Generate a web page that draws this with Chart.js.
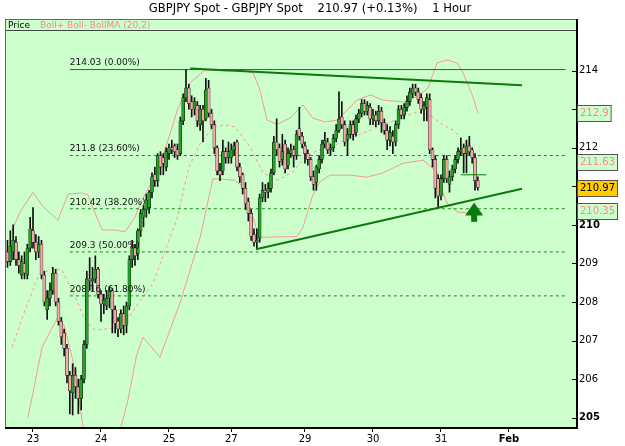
<!DOCTYPE html>
<html>
<head>
<meta charset="utf-8">
<script src="https://cdn.jsdelivr.net/npm/chart.js@4.4.1/dist/chart.umd.min.js"></script>
<style>
  html, body { margin: 0; padding: 0; background: #fff; }
  #wrap { width: 625px; height: 446px; position: relative; }
</style>
</head>
<body>
<div id="wrap"><canvas id="chart"></canvas></div>
<script>
(function () {
  'use strict';

  // Hourly candles, index 0 = first bar on the left
  var opens = [209.3,209.05,209.3,209.55,209.1,208.7,209.0,208.7,209.4,209.85,
    209.55,209.3,209.5,208.7,207.8,208.1,208.3,208.75,208.0,207.5,
    207.2,206.8,206.1,205.65,206.1,205.8,205.5,206.0,206.9,208.6,
    208.55,208.6,208.85,208.2,207.95,207.9,208.1,208.3,207.8,207.5,
    207.3,207.7,207.4,207.9,209.1,209.4,209.25,209.85,210.2,210.4,
    210.45,210.85,211.3,211.15,211.8,211.75,211.5,211.85,212.0,212.05,
    211.95,211.85,212.7,213.3,213.55,213.2,213.0,213.1,212.6,213.0,
    212.75,213.55,212.9,212.6,212.0,211.4,211.4,211.9,211.75,211.75,
    211.95,212.15,211.5,211.3,210.95,210.6,210.3,209.75,209.55,209.65,
    210.7,210.9,210.85,210.95,211.35,212.15,212.0,211.7,212.1,211.55,
    211.85,211.95,211.8,212.5,212.3,212.05,211.85,211.7,211.25,211.1,
    211.45,211.7,212.1,212.15,211.95,212.0,212.25,212.45,212.8,212.6,
    212.2,212.35,212.6,212.4,212.75,212.9,213.15,212.95,213.05,212.75,
    212.85,212.7,212.95,212.65,212.45,212.2,212.3,212.15,212.6,213.0,
    212.85,213.05,213.2,213.4,213.55,213.45,213.3,213.0,213.05,213.25,
    211.95,211.7,211.2,210.75,211.2,211.7,211.05,211.25,211.45,211.7,
    211.9,212.0,211.85,212.05,211.95,211.75,211.15];
  var highs = [209.6,209.85,210.0,209.7,209.3,209.2,209.3,209.5,210.2,210.45,
    209.75,209.7,209.6,208.8,208.3,208.5,208.9,208.85,208.1,207.6,
    207.3,206.9,206.2,206.4,206.3,206.0,206.1,207.0,208.8,209.15,
    208.9,209.2,208.9,208.3,208.2,208.3,208.4,208.35,207.9,207.6,
    207.8,207.9,208.0,209.2,209.6,209.5,209.9,210.4,210.5,210.8,
    210.9,211.35,211.5,211.85,211.9,211.85,212.0,212.1,212.2,212.1,
    212.1,212.8,213.4,214.03,213.65,213.35,213.3,213.2,213.1,213.1,
    213.8,213.75,213.0,212.7,212.05,211.6,212.2,212.0,212.15,212.1,
    212.15,212.2,211.6,211.35,211.1,210.7,210.4,209.9,209.9,210.8,
    211.1,211.05,211.1,211.45,212.3,212.75,212.1,212.35,212.2,212.0,
    212.1,212.05,212.45,213.05,212.4,212.15,211.95,211.75,211.4,211.55,
    211.8,212.2,212.4,212.25,212.1,212.35,212.6,213.45,213.2,212.7,
    212.5,212.7,212.7,212.85,213.0,213.25,213.25,213.2,213.15,213.0,
    212.95,213.1,213.05,212.75,212.6,212.55,212.45,212.7,213.1,213.1,
    213.15,213.35,213.55,213.65,213.65,213.55,213.4,213.2,213.4,213.4,
    212.0,211.8,211.3,211.3,211.8,211.8,211.4,211.55,211.8,212.0,
    212.25,212.1,212.2,212.3,212.0,211.85,211.25];
  var lows = [208.9,208.95,209.1,208.95,208.75,208.6,208.6,208.6,209.3,209.4,
    209.1,209.15,208.6,207.9,207.55,207.9,208.2,207.9,207.4,206.9,
    206.6,205.9,205.1,205.07,205.5,205.1,205.2,205.9,206.8,208.3,
    208.3,208.5,208.1,207.5,207.7,207.8,207.85,207.2,207.2,207.1,
    207.2,207.15,207.2,207.8,208.9,208.95,209.1,209.7,209.95,210.2,
    210.3,210.7,211.0,211.0,211.3,211.3,211.4,211.7,211.85,211.75,
    211.7,211.8,212.6,213.2,213.0,212.8,212.85,212.55,212.45,212.15,
    212.7,212.8,212.5,211.85,211.3,211.15,211.3,211.6,211.6,211.6,
    211.8,211.4,211.1,210.8,210.4,210.1,209.6,209.45,209.37,209.55,
    210.6,210.6,210.7,210.85,211.3,211.8,211.5,211.55,211.35,211.45,
    211.75,211.5,211.7,212.2,212.0,211.6,211.55,211.15,210.9,210.9,
    211.35,211.6,212.0,211.85,211.8,211.9,212.15,212.4,212.5,212.05,
    211.8,212.25,212.2,212.3,212.65,212.8,212.85,212.85,212.6,212.6,
    212.55,212.6,212.4,212.35,211.95,212.05,211.85,212.05,212.5,212.75,
    212.75,212.95,213.1,213.3,213.35,213.15,212.9,212.7,212.7,211.85,
    211.5,210.7,210.45,210.65,211.1,211.1,210.85,211.15,211.35,211.6,
    211.8,211.35,211.35,211.8,211.6,210.9,210.9];
  var closes = [209.05,209.45,209.6,209.1,208.95,209.05,208.75,209.4,209.9,209.55,
    209.3,209.5,208.7,208.0,208.1,208.3,208.75,208.0,207.5,207.1,
    206.8,206.1,205.7,206.1,205.8,205.5,206.0,206.9,208.6,208.55,
    208.6,208.85,208.2,207.95,208.05,208.1,208.3,207.8,207.45,207.3,
    207.7,207.4,207.9,209.1,209.4,209.2,209.85,210.3,210.4,210.65,
    210.85,211.25,211.15,211.8,211.5,211.6,211.9,212.0,211.95,211.9,
    211.8,212.7,213.3,213.55,213.15,213.0,213.2,212.7,213.0,212.7,
    213.5,212.9,212.6,212.0,211.4,211.3,211.9,211.75,211.9,211.95,
    212.05,211.5,211.25,210.95,210.55,210.3,209.7,209.55,209.6,210.7,
    210.9,210.85,210.95,211.35,212.15,211.95,211.65,211.9,211.45,211.85,
    211.95,211.8,212.35,212.3,212.1,211.85,211.7,211.25,211.05,211.5,
    211.7,212.1,212.2,211.95,212.0,212.25,212.45,212.75,212.6,212.15,
    212.35,212.6,212.35,212.75,212.9,213.15,212.95,213.1,212.75,212.85,
    212.7,212.95,212.65,212.45,212.2,212.4,212.15,212.6,213.0,212.85,
    213.05,213.2,213.45,213.55,213.45,213.25,213.0,213.1,213.3,211.95,
    211.7,210.95,210.75,211.2,211.7,211.2,211.25,211.45,211.7,211.9,
    211.95,211.85,212.05,211.9,211.75,211.15,210.97];

  // Bollinger (20,2) as [bar index, price]
  var bollUpper = [[1.6,209.86],[4.4,210.33],[9,210.85],[12.2,210.5],[17.8,210.12],[21.4,210.8],
    [26,210.83],[28.4,210.78],[30.9,210.31],[33.4,209.87],[38,209.87],[41.5,209.82],[45,210.2],
    [47.5,210.65],[53.1,211.42],[58,212.5],[60,213.0],[64.4,213.68],[69.7,214.02],[76.8,213.99],
    [82,214.02],[86.7,213.94],[89.1,213.5],[91.6,212.72],[95.1,212.61],[99.7,212.77],[104.3,213.11],
    [107.8,212.77],[112.1,212.67],[116.3,212.72],[123.4,213.24],[128,213.37],[132.5,213.24],
    [139.6,213.19],[144.9,213.34],[148.4,213.55],[151.6,214.2],[155.1,214.28],[158.7,214.2],
    [160.8,213.94],[164.3,213.32],[166,212.9]];
  var bollMid = [[1.6,206.83],[6.2,207.79],[10.8,208.65],[15.7,208.88],[19.2,208.83],[22.8,208.31],
    [27.4,207.53],[30.9,207.27],[37.9,207.33],[42.2,207.55],[47,208.05],[51.4,208.5],[56,209.4],
    [60,210.2],[64,211.5],[68,212.1],[72.5,212.54],[76.8,212.59],[80.3,212.54],[83.8,212.2],
    [85.6,212.02],[90.2,211.35],[95.1,211.16],[100.4,211.35],[105,211.76],[109.6,211.94],
    [114.5,212.02],[119.1,212.2],[125.5,212.38],[135,212.67],[144.5,212.93],[149.1,212.85],
    [153.7,212.59],[157.3,212.46],[160.8,212.2],[163.3,211.94],[166,211.63]];
  var bollLower = [[7.2,205.0],[9.7,205.9],[12.2,206.83],[17.8,207.61],[20,207.4],[23,206.5],
    [25,205.6],[27,204.6],[30,204.0],[33,203.8],[37,204.0],[40,204.75],[42.5,205.45],[45.5,206.6],
    [47.8,207.09],[53.8,206.57],[61,208.0],[68,209.68],[72.5,211.2],[80.3,211.16],[83.2,210.98],
    [85.6,210.46],[88,209.87],[89.1,209.68],[102.2,209.7],[104.3,209.94],[107.5,210.72],[110,211.1],
    [113.8,211.29],[120.9,211.29],[126.9,211.24],[132.5,211.35],[139.6,211.6],[146.7,211.68],
    [151.6,211.37],[153.7,210.83],[155.1,210.57],[158.7,210.34],[162.2,210.31],[166,210.35]];

  // Drawing tools
  var fibLevels = [214.03, 211.8, 210.42, 209.3, 208.16];
  var fibPercents = ['0.00%', '23.60%', '38.20%', '50.00%', '61.80%'];
  var fibSpan = [22, 197];
  var trendHigh = [[64.5, 214.06], [181.6, 213.62]];
  var trendLow = [[87.7, 209.37], [181.6, 210.94]];
  var supportLine = [[160, 211.3], [169, 211.3]];
  var arrowAt = [164.7, 210.58, 210.08]; // bar index, tip price, base price

  // Axes
  var xTickPos = [9, 33, 57, 79, 105, 129, 153, 177];
  var xTickLabels = ['23', '24', '25', '27', '29', '30', '31', 'Feb'];
  var yTickValues = [205, 206, 207, 208, 209, 210, 211, 212, 213, 214];
  var yHiddenTicks = [211, 213];
  var yBoldTicks = [205, 210];

  // Right-hand value tags
  var tagValues = [212.9, 211.63, 210.97, 210.35];
  var tagText = ['212.9', '211.63', '210.97', '210.35'];
  var tagIsPrice = [false, false, true, false];

  var titleText = 'GBPJPY Spot - GBPJPY Spot    210.97 (+0.13%)    1 Hour';

  var FONT = '"DejaVu Sans", Verdana, sans-serif';
  var UP = '#22a322';
  var DOWN = '#f6a8a8';
  var BAND = '#f39a9a';
  var FIB = '#1c8c1c';

  Chart.defaults.font.family = FONT;

  function pts(list) {
    return list.map(function (p) { return { x: p[0], y: p[1] }; });
  }

  var wickData = closes.map(function (c, i) { return { x: i, y: [lows[i], highs[i]] }; });
  var bodyData = closes.map(function (c, i) { return { x: i, y: [opens[i], c] }; });
  var bodyFill = closes.map(function (c, i) { return c >= opens[i] ? UP : DOWN; });

  var datasets = [
    { type: 'line', data: pts(trendHigh), borderColor: '#0a7a0a', borderWidth: 2, pointRadius: 0, order: 0 },
    { type: 'line', data: pts(trendLow), borderColor: '#0a7a0a', borderWidth: 2, pointRadius: 0, order: 0 },
    { type: 'line', data: pts(supportLine), borderColor: '#0a7a0a', borderWidth: 1, pointRadius: 0, order: 0 },
    { type: 'bar', data: bodyData, backgroundColor: bodyFill, borderColor: '#1a1a1a', borderWidth: 0.6,
      borderSkipped: false, barThickness: 3, grouped: false, order: 1 },
    { type: 'bar', data: wickData, backgroundColor: '#111', barThickness: 1, grouped: false, order: 2 }
  ];
  fibLevels.forEach(function (lv, k) {
    datasets.push({ type: 'line', data: [{ x: fibSpan[0], y: lv }, { x: fibSpan[1], y: lv }],
      borderColor: k === 0 ? '#0f800f' : FIB, borderWidth: 1, borderDash: k === 0 ? [] : [3, 3],
      pointRadius: 0, order: 4 });
  });
  datasets.push(
    { type: 'line', data: pts(bollUpper), borderColor: BAND, borderWidth: 1, pointRadius: 0, order: 5 },
    { type: 'line', data: pts(bollMid), borderColor: BAND, borderWidth: 1, borderDash: [3, 3], pointRadius: 0, order: 5 },
    { type: 'line', data: pts(bollLower), borderColor: BAND, borderWidth: 1, pointRadius: 0, order: 5 }
  );

  var panel = {
    id: 'panel',
    beforeDraw: function (chart) {
      var ctx = chart.ctx, a = chart.chartArea;
      ctx.save();
      ctx.fillStyle = '#fff';
      ctx.fillRect(0, 0, chart.width, chart.height);
      ctx.fillStyle = '#ccffcc';
      ctx.fillRect(a.left, a.top - 11, a.right - a.left, a.bottom - a.top + 11);
      ctx.strokeStyle = '#444';
      ctx.lineWidth = 1;
      ctx.beginPath();
      ctx.moveTo(a.left, a.top - 0.5);
      ctx.lineTo(a.right, a.top - 0.5);
      ctx.stroke();
      ctx.font = '9px ' + FONT;
      ctx.textBaseline = 'middle';
      ctx.fillStyle = '#000';
      ctx.fillText('Price', a.left + 3, a.top - 5.5);
      ctx.fillStyle = '#f48a8a';
      ctx.fillText('Boll+ Boll- BollMA (20,2)', a.left + 35, a.top - 5.5);
      ctx.fillStyle = '#000';
      ctx.font = '11.6px ' + FONT;
      ctx.textAlign = 'center';
      ctx.fillText(titleText, (a.left + a.right) / 2 + 19, 9);
      ctx.restore();
    },
    afterDatasetsDraw: function (chart) {
      var ctx = chart.ctx, a = chart.chartArea;
      var xs = chart.scales.x, ys = chart.scales.y;
      ctx.save();

      // fib labels
      ctx.font = '9px ' + FONT;
      ctx.fillStyle = '#111';
      ctx.textBaseline = 'bottom';
      fibLevels.forEach(function (lv, k) {
        ctx.fillText(lv + ' (' + fibPercents[k] + ')', xs.getPixelForValue(fibSpan[0]), ys.getPixelForValue(lv) - 2);
      });

      // arrow
      var ax = xs.getPixelForValue(arrowAt[0]);
      var tip = ys.getPixelForValue(arrowAt[1]);
      var base = ys.getPixelForValue(arrowAt[2]);
      ctx.fillStyle = '#0a7a0a';
      ctx.beginPath();
      ctx.moveTo(ax, tip);
      ctx.lineTo(ax + 9, tip + 13);
      ctx.lineTo(ax - 9, tip + 13);
      ctx.closePath();
      ctx.fill();
      ctx.fillRect(ax - 3, tip + 12, 6, base - tip - 12);

      // frame
      ctx.strokeStyle = '#666';
      ctx.lineWidth = 1;
      ctx.strokeRect(a.left + 0.5, a.top - 11.5, a.right - a.left, a.bottom - a.top + 11);
      ctx.strokeStyle = '#000';
      ctx.lineWidth = 2;
      ctx.beginPath();
      ctx.moveTo(a.right, a.top - 12);
      ctx.lineTo(a.right, a.bottom);
      ctx.lineTo(a.left, a.bottom);
      ctx.stroke();

      // y tick dashes
      ctx.lineWidth = 1;
      yTickValues.forEach(function (v) {
        var y = Math.round(ys.getPixelForValue(v)) + 0.5;
        ctx.beginPath();
        ctx.moveTo(a.right - 5, y);
        ctx.lineTo(a.right, y);
        ctx.stroke();
      });

      // value tags
      ctx.font = '10px ' + FONT;
      ctx.textBaseline = 'middle';
      ctx.textAlign = 'left';
      tagValues.forEach(function (v, k) {
        var y = Math.round(ys.getPixelForValue(v));
        var w = ctx.measureText(tagText[k]).width + 5;
        ctx.fillStyle = tagIsPrice[k] ? '#ffcc00' : '#ccffcc';
        ctx.fillRect(a.right, y - 8, w, 16);
        ctx.strokeStyle = '#555';
        ctx.lineWidth = 1;
        ctx.strokeRect(a.right + 0.5, y - 7.5, w, 16);
        ctx.fillStyle = tagIsPrice[k] ? '#000' : '#f48a8a';
        ctx.fillText(tagText[k], a.right + 3, y + 0.5);
      });
      ctx.restore();
    }
  };

  new Chart(document.getElementById('chart'), {
    type: 'bar',
    data: { datasets: datasets },
    options: {
      responsive: true,
      maintainAspectRatio: false,
      animation: false,
      events: [],
      layout: { padding: { left: 5, top: 31, right: 0, bottom: 0 } },
      plugins: { legend: { display: false }, tooltip: { enabled: false } },
      elements: { line: { tension: 0 } },
      scales: {
        x: {
          type: 'linear',
          min: -0.88,
          max: 201,
          offset: false,
          afterFit: function (s) { s.height = 18; },
          afterBuildTicks: function (s) { s.ticks = xTickPos.map(function (v) { return { value: v }; }); },
          grid: { display: true, drawOnChartArea: false, drawTicks: true, tickLength: 4, color: '#000', offset: false },
          border: { display: false },
          ticks: {
            autoSkip: false,
            maxRotation: 0,
            padding: 1,
            color: '#000',
            font: function (c) {
              var bold = c.tick && xTickPos.indexOf(c.tick.value) === xTickPos.length - 1;
              return { family: FONT, size: 10, weight: bold ? 'bold' : 'normal' };
            },
            callback: function (v) {
              var k = xTickPos.indexOf(v);
              return k >= 0 ? xTickLabels[k] : '';
            }
          }
        },
        y: {
          position: 'right',
          min: 204.733,
          max: 215.03,
          afterFit: function (s) { s.width = 48; },
          afterBuildTicks: function (s) { s.ticks = yTickValues.map(function (v) { return { value: v }; }); },
          grid: { display: false, drawTicks: false },
          border: { display: false },
          ticks: {
            padding: 2,
            color: '#000',
            font: function (c) {
              var bold = c.tick && yBoldTicks.indexOf(c.tick.value) >= 0;
              return { family: FONT, size: 10, weight: bold ? 'bold' : 'normal' };
            },
            callback: function (v) { return yHiddenTicks.indexOf(v) >= 0 ? '' : String(v); }
          }
        }
      }
    },
    plugins: [panel]
  });
}());
</script>
</body>
</html>
